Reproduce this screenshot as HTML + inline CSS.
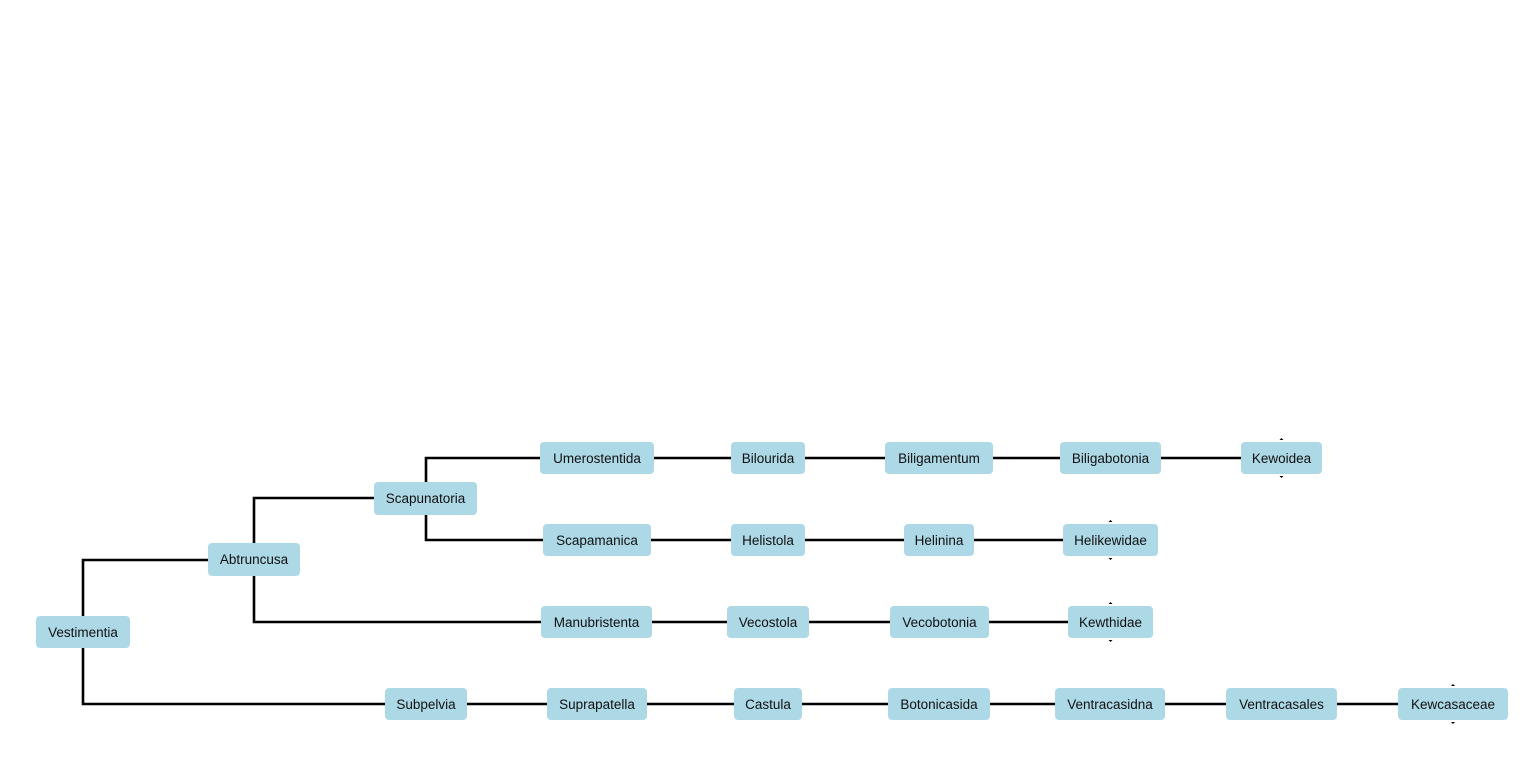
<!DOCTYPE html>
<html><head><meta charset="utf-8"><style>
html,body{margin:0;padding:0;background:#fff;}
svg{display:block;}
text{font-family:"Liberation Sans",sans-serif;font-size:13.5px;fill:#111;}
</style></head><body>
<svg width="1536" height="768" xmlns="http://www.w3.org/2000/svg">
<g stroke="#000" stroke-width="2.6" fill="none">
<!-- tree connectors -->
<polyline points="83,616 83,560 208,560"/>
<polyline points="83,648 83,704 385,704"/>
<polyline points="254,543 254,498 374,498"/>
<polyline points="254,576 254,622 541,622"/>
<polyline points="426,482 426,458 540,458"/>
<polyline points="426,515 426,540 543,540"/>
<!-- row 1 -->
<line x1="654" y1="458" x2="731" y2="458"/>
<line x1="805" y1="458" x2="885" y2="458"/>
<line x1="993" y1="458" x2="1060" y2="458"/>
<line x1="1161" y1="458" x2="1241" y2="458"/>
<!-- row 2 -->
<line x1="651" y1="540" x2="731" y2="540"/>
<line x1="805" y1="540" x2="904" y2="540"/>
<line x1="974" y1="540" x2="1063" y2="540"/>
<!-- row 3 -->
<line x1="652" y1="622" x2="727" y2="622"/>
<line x1="809" y1="622" x2="890" y2="622"/>
<line x1="989" y1="622" x2="1068" y2="622"/>
<!-- row 4 -->
<line x1="467" y1="704" x2="547" y2="704"/>
<line x1="647" y1="704" x2="734" y2="704"/>
<line x1="802" y1="704" x2="888" y2="704"/>
<line x1="990" y1="704" x2="1055" y2="704"/>
<line x1="1165" y1="704" x2="1226" y2="704"/>
<line x1="1337" y1="704" x2="1398" y2="704"/>
</g>
<g fill="#ADD8E6">
<rect x="36" y="616" width="94" height="32" rx="4"/>
<rect x="208" y="543" width="92" height="33" rx="4"/>
<rect x="374" y="482" width="103" height="33" rx="4"/>
<rect x="540" y="442" width="114" height="32" rx="4"/>
<rect x="731" y="442" width="74" height="32" rx="4"/>
<rect x="885" y="442" width="108" height="32" rx="4"/>
<rect x="1060" y="442" width="101" height="32" rx="4"/>
<rect x="1241" y="442" width="81" height="32" rx="4"/>
<rect x="543" y="524" width="108" height="32" rx="4"/>
<rect x="731" y="524" width="74" height="32" rx="4"/>
<rect x="904" y="524" width="70" height="32" rx="4"/>
<rect x="1063" y="524" width="95" height="32" rx="4"/>
<rect x="541" y="606" width="111" height="32" rx="4"/>
<rect x="727" y="606" width="82" height="32" rx="4"/>
<rect x="890" y="606" width="99" height="32" rx="4"/>
<rect x="1068" y="606" width="85" height="32" rx="4"/>
<rect x="385" y="688" width="82" height="32" rx="4"/>
<rect x="547" y="688" width="100" height="32" rx="4"/>
<rect x="734" y="688" width="68" height="32" rx="4"/>
<rect x="888" y="688" width="102" height="32" rx="4"/>
<rect x="1055" y="688" width="110" height="32" rx="4"/>
<rect x="1226" y="688" width="111" height="32" rx="4"/>
<rect x="1398" y="688" width="110" height="32" rx="4"/>
</g>
<!-- small ticks -->
<g fill="#000">
<path d="M1279.5,440 l2,-2 l2,2z"/><path d="M1279.5,476 l2,2 l2,-2z"/>
<path d="M1108.5,522 l2,-2 l2,2z"/><path d="M1108.5,558 l2,2 l2,-2z"/>
<path d="M1108.5,604 l2,-2 l2,2z"/><path d="M1108.5,640 l2,2 l2,-2z"/>
<path d="M1451,686 l2,-2 l2,2z"/><path d="M1451,722 l2,2 l2,-2z"/>
</g>
<g text-anchor="middle">
<text x="83" y="637">Vestimentia</text>
<text x="254" y="564">Abtruncusa</text>
<text x="425.5" y="503">Scapunatoria</text>
<text x="597" y="463">Umerostentida</text>
<text x="768" y="463">Bilourida</text>
<text x="939" y="463">Biligamentum</text>
<text x="1110.5" y="463">Biligabotonia</text>
<text x="1281.5" y="463">Kewoidea</text>
<text x="597" y="545">Scapamanica</text>
<text x="768" y="545">Helistola</text>
<text x="939" y="545">Helinina</text>
<text x="1110.5" y="545">Helikewidae</text>
<text x="596.5" y="627">Manubristenta</text>
<text x="768" y="627">Vecostola</text>
<text x="939.5" y="627">Vecobotonia</text>
<text x="1110.5" y="627">Kewthidae</text>
<text x="426" y="709">Subpelvia</text>
<text x="597" y="709">Suprapatella</text>
<text x="768" y="709">Castula</text>
<text x="939" y="709">Botonicasida</text>
<text x="1110" y="709">Ventracasidna</text>
<text x="1281.5" y="709">Ventracasales</text>
<text x="1453" y="709">Kewcasaceae</text>
</g>
</svg>
</body></html>
